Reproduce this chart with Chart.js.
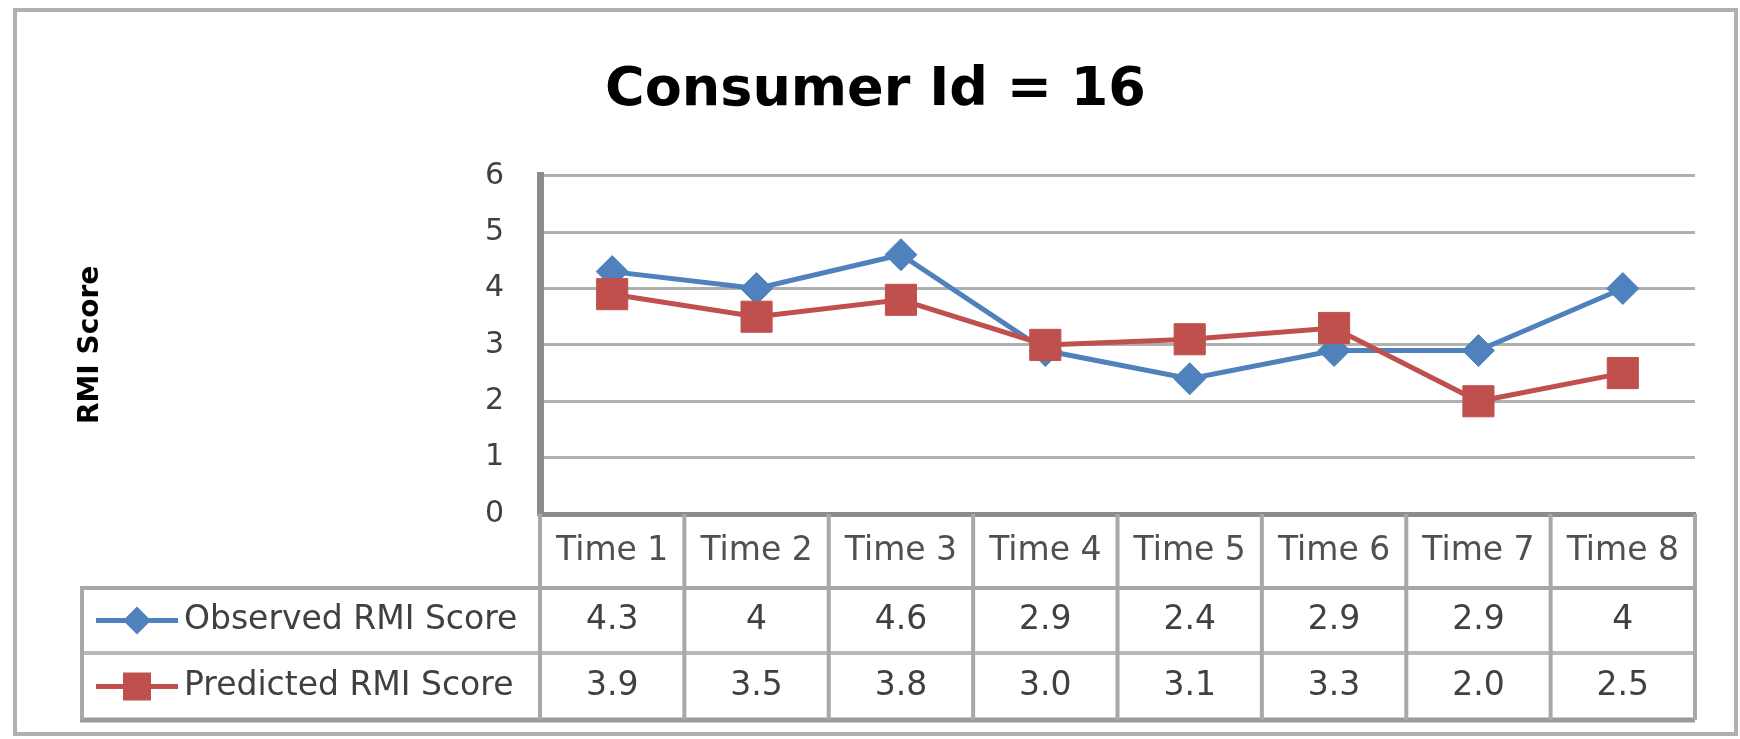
<!DOCTYPE html>
<html>
<head>
<meta charset="utf-8">
<script src="https://cdn.jsdelivr.net/npm/chart.js@4.4.1/dist/chart.umd.min.js"></script>
<style>
  html, body { margin: 0; padding: 0; background: #fff; }
  canvas { display: block; }
</style>
</head>
<body>
<canvas id="myChart" width="1740" height="739"></canvas>
<script>
// Chart data
const categories = ['Time 1', 'Time 2', 'Time 3', 'Time 4', 'Time 5', 'Time 6', 'Time 7', 'Time 8'];
const observed = [4.3, 4, 4.6, 2.9, 2.4, 2.9, 2.9, 4];
const predicted = [3.9, 3.5, 3.8, 3.0, 3.1, 3.3, 2.0, 2.5];
const yTicks = [0, 1, 2, 3, 4, 5, 6];
const seriesNames = ['Observed RMI Score', 'Predicted RMI Score'];

const blue = '#4F81BD';
const red = '#C0504D';
const FONT = "'DejaVu Sans', sans-serif";

function drawDiamond(ctx, x, y, r) {
  ctx.beginPath();
  ctx.moveTo(x - r, y);
  ctx.lineTo(x, y - r);
  ctx.lineTo(x + r, y);
  ctx.lineTo(x, y + r);
  ctx.closePath();
  ctx.fill();
}

// Excel-like data table under the plot + outer frame
const dataTable = {
  id: 'dataTable',
  beforeDraw(chart) {
    const ctx = chart.ctx;
    ctx.save();
    ctx.fillStyle = '#fff';
    ctx.fillRect(0, 0, chart.width, chart.height);
    ctx.strokeStyle = '#b0b0b0';
    ctx.lineWidth = 4;
    ctx.strokeRect(15, 10, 1721, 724);
    ctx.restore();
  },
  afterDraw(chart) {
    const ctx = chart.ctx;
    const xs = chart.scales.x;
    const area = chart.chartArea;
    const colW = xs.width / categories.length;
    const rowY = [area.bottom, area.bottom + 74, area.bottom + 139, area.bottom + 206];
    const legendLeft = 82;

    ctx.save();
    // horizontal lines
    ctx.lineCap = 'butt';
    const hLine = (y, w, c) => {
      ctx.strokeStyle = c; ctx.lineWidth = w;
      ctx.beginPath(); ctx.moveTo(legendLeft - 2, y); ctx.lineTo(area.right, y); ctx.stroke();
    };
    hLine(rowY[1], 4, '#a6a6a6');
    hLine(rowY[2], 4, '#b8b8b8');
    hLine(rowY[3], 5, '#9a9a9a');

    // vertical lines
    ctx.strokeStyle = '#a8a8a8';
    ctx.lineWidth = 4;
    for (let k = 1; k <= categories.length; k++) {
      const x = area.left + k * colW;
      ctx.beginPath(); ctx.moveTo(x, rowY[0]); ctx.lineTo(x, rowY[3]); ctx.stroke();
    }
    ctx.beginPath(); ctx.moveTo(area.left, rowY[0]); ctx.lineTo(area.left, rowY[3]); ctx.stroke();
    ctx.beginPath(); ctx.moveTo(legendLeft, rowY[1]); ctx.lineTo(legendLeft, rowY[3]); ctx.stroke();

    // header labels
    ctx.font = '33px ' + FONT;
    ctx.textAlign = 'center';
    ctx.textBaseline = 'middle';
    ctx.fillStyle = '#505050';
    categories.forEach((c, i) => {
      ctx.fillText(c, xs.getPixelForValue(i), (rowY[0] + rowY[1]) / 2);
    });

    // values
    ctx.fillStyle = '#404040';
    const y1 = (rowY[1] + rowY[2]) / 2;
    const y2 = (rowY[2] + rowY[3]) / 2;
    observed.forEach((v, i) => ctx.fillText(String(v), xs.getPixelForValue(i), y1));
    predicted.forEach((v, i) => ctx.fillText(v.toFixed(1), xs.getPixelForValue(i), y2));

    // legend keys
    const keyX = 137;
    [[blue, y1], [red, y2]].forEach(([col, y], j) => {
      ctx.strokeStyle = col;
      ctx.lineWidth = 5;
      ctx.beginPath(); ctx.moveTo(96, y); ctx.lineTo(178, y); ctx.stroke();
      ctx.fillStyle = col;
      if (j === 0) drawDiamond(ctx, keyX, y, 14);
      else ctx.fillRect(keyX - 14, y - 14, 28, 28);
    });
    ctx.fillStyle = '#404040';
    ctx.textAlign = 'left';
    ctx.fillText(seriesNames[0], 184, y1);
    ctx.fillText(seriesNames[1], 184, y2);
    ctx.restore();
  }
};

const ctx = document.getElementById('myChart');

new Chart(ctx, {
  type: 'line',
  data: {
    labels: categories,
    datasets: [
      {
        label: seriesNames[0],
        data: observed,
        borderColor: blue,
        backgroundColor: blue,
        borderWidth: 5,
        pointStyle: 'rectRot',
        pointRadius: 16,
        pointBorderWidth: 1,
        tension: 0,
        order: 1,
      },
      {
        label: seriesNames[1],
        data: predicted,
        borderColor: red,
        backgroundColor: red,
        borderWidth: 5,
        pointStyle: 'rect',
        pointRadius: 22,
        pointBorderWidth: 1,
        tension: 0,
        order: 0,
      }
    ]
  },
  options: {
    responsive: false,
    devicePixelRatio: 1,
    animation: false,
    events: [],
    layout: { padding: { top: 14, left: 56, right: 45, bottom: 0 } },
    plugins: {
      legend: { display: false },
      tooltip: { enabled: false },
      title: {
        display: true,
        text: 'Consumer Id = 16',
        color: '#000',
        font: { family: FONT, size: 54, weight: 'bold' },
        padding: { top: 45, bottom: 52 }
      }
    },
    scales: {
      x: {
        offset: true,
        afterFit: s => { s.height = 225; },
        ticks: { display: false },
        grid: { display: false },
        border: { display: true, color: '#8c8c8c', width: 5 }
      },
      y: {
        min: 0,
        max: 6,
        afterBuildTicks: s => { s.ticks = yTicks.map(v => ({ value: v })); },
        afterFit: s => { s.width = 484; },
        ticks: {
          color: '#404040',
          font: { family: FONT, size: 30 },
          padding: 36
        },
        grid: { color: '#b0b0b0', lineWidth: 3, drawTicks: false },
        border: { display: true, color: '#8c8c8c', width: 7 },
        title: {
          display: true,
          text: 'RMI Score',
          color: '#000',
          font: { family: FONT, size: 28, weight: 'bold' },
          padding: { top: 18 }
        }
      }
    }
  },
  plugins: [dataTable]
});
</script>
</body>
</html>
